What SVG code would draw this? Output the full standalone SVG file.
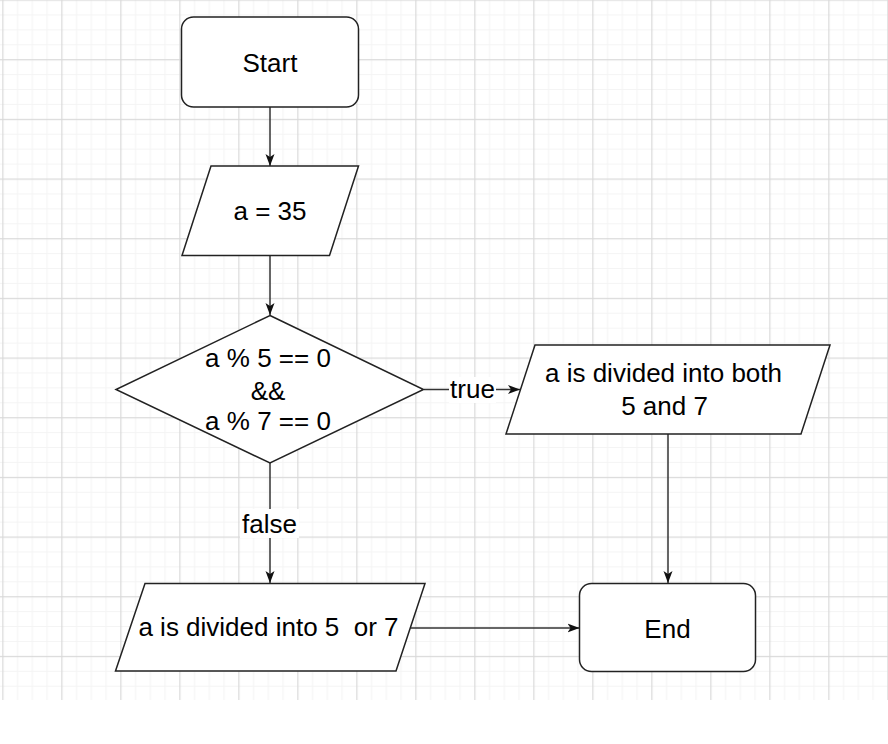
<svg xmlns="http://www.w3.org/2000/svg" width="888" height="744" viewBox="0 0 888 744">
  <style>
    .node { fill: #ffffff; stroke: #222222; stroke-width: 1.5; }
    .edge { fill: none; stroke: #333333; stroke-width: 1.5; }
    .t { font-family: "Liberation Sans", Arial, sans-serif; font-size: 26px; fill: #000000; text-anchor: middle; white-space: pre; }
    .lbl { fill: #ffffff; stroke: none; }
  </style>
  <defs>
    <pattern id="grid" patternUnits="userSpaceOnUse" x="2.3" y="-0.5" width="59" height="59.67">
      <rect x="14.75" y="0" width="1" height="59.67" fill="#f4f4f4"/>
      <rect x="29.5" y="0" width="1" height="59.67" fill="#f4f4f4"/>
      <rect x="44.25" y="0" width="1" height="59.67" fill="#f4f4f4"/>
      <rect x="0" y="14.92" width="59" height="1" fill="#f4f4f4"/>
      <rect x="0" y="29.84" width="59" height="1" fill="#f4f4f4"/>
      <rect x="0" y="44.75" width="59" height="1" fill="#f4f4f4"/>
      <rect x="0" y="0" width="1.2" height="59.67" fill="#d9d9d9"/>
      <rect x="0" y="0" width="59" height="1.2" fill="#d9d9d9"/>
    </pattern>
    <marker id="arrow" markerUnits="userSpaceOnUse" markerWidth="13" markerHeight="11" refX="12" refY="5.5" orient="auto">
      <path d="M0,1 L12,5.5 L0,10 L3,5.5 Z" fill="#111111"/>
    </marker>
  </defs>

  <rect x="0" y="0" width="888" height="744" fill="#ffffff"/>
  <rect x="0" y="0" width="888" height="700" fill="url(#grid)"/>

  <g id="connectors">
    <line class="edge" x1="270" y1="107" x2="270" y2="166" marker-end="url(#arrow)"/>
    <line class="edge" x1="270" y1="255" x2="270" y2="315" marker-end="url(#arrow)"/>
    <line class="edge" x1="424" y1="389.5" x2="520" y2="389.5" marker-end="url(#arrow)"/>
    <line class="edge" x1="270" y1="463" x2="270" y2="583" marker-end="url(#arrow)"/>
    <line class="edge" x1="668" y1="434" x2="668" y2="583" marker-end="url(#arrow)"/>
    <line class="edge" x1="410.5" y1="628" x2="579.5" y2="628" marker-end="url(#arrow)"/>
    <g id="label-true">
      <rect class="lbl" x="449" y="377" width="47" height="26"/>
      <text class="t" x="472.5" y="398">true</text>
    </g>
    <g id="label-false">
      <rect class="lbl" x="240" y="509" width="59" height="29"/>
      <text class="t" x="269.5" y="532.5">false</text>
    </g>
  </g>

  <g id="start">
    <rect class="node" x="181.5" y="17" width="177" height="90" rx="12" ry="12"/>
    <text class="t" x="270" y="71.5">Start</text>
  </g>

  <g id="assign">
    <polygon class="node" points="211,166 358.5,166 329.5,255.5 182,255.5"/>
    <text class="t" x="270" y="220">a = 35</text>
  </g>

  <g id="decision">
    <polygon class="node" points="270,315.5 423.5,389.5 270,463 116,389.5"/>
    <text class="t" x="268" y="367">a % 5 == 0</text>
    <text class="t" x="268" y="399.5">&amp;&amp;</text>
    <text class="t" x="268" y="430">a % 7 == 0</text>
  </g>

  <g id="out-both">
    <polygon class="node" points="535,345 830,345 801,434 506,434"/>
    <text class="t" x="663.5" y="382">a is divided into both</text>
    <text class="t" x="664.5" y="414.5">5 and 7</text>
  </g>

  <g id="out-either">
    <polygon class="node" points="145,583.5 425,583.5 396,671 115.5,671"/>
    <text class="t" x="268.5" y="636">a is divided into 5  or 7</text>
  </g>

  <g id="end">
    <rect class="node" x="579.5" y="583.5" width="176" height="88" rx="12" ry="12"/>
    <text class="t" x="667.5" y="637.5">End</text>
  </g>
</svg>
